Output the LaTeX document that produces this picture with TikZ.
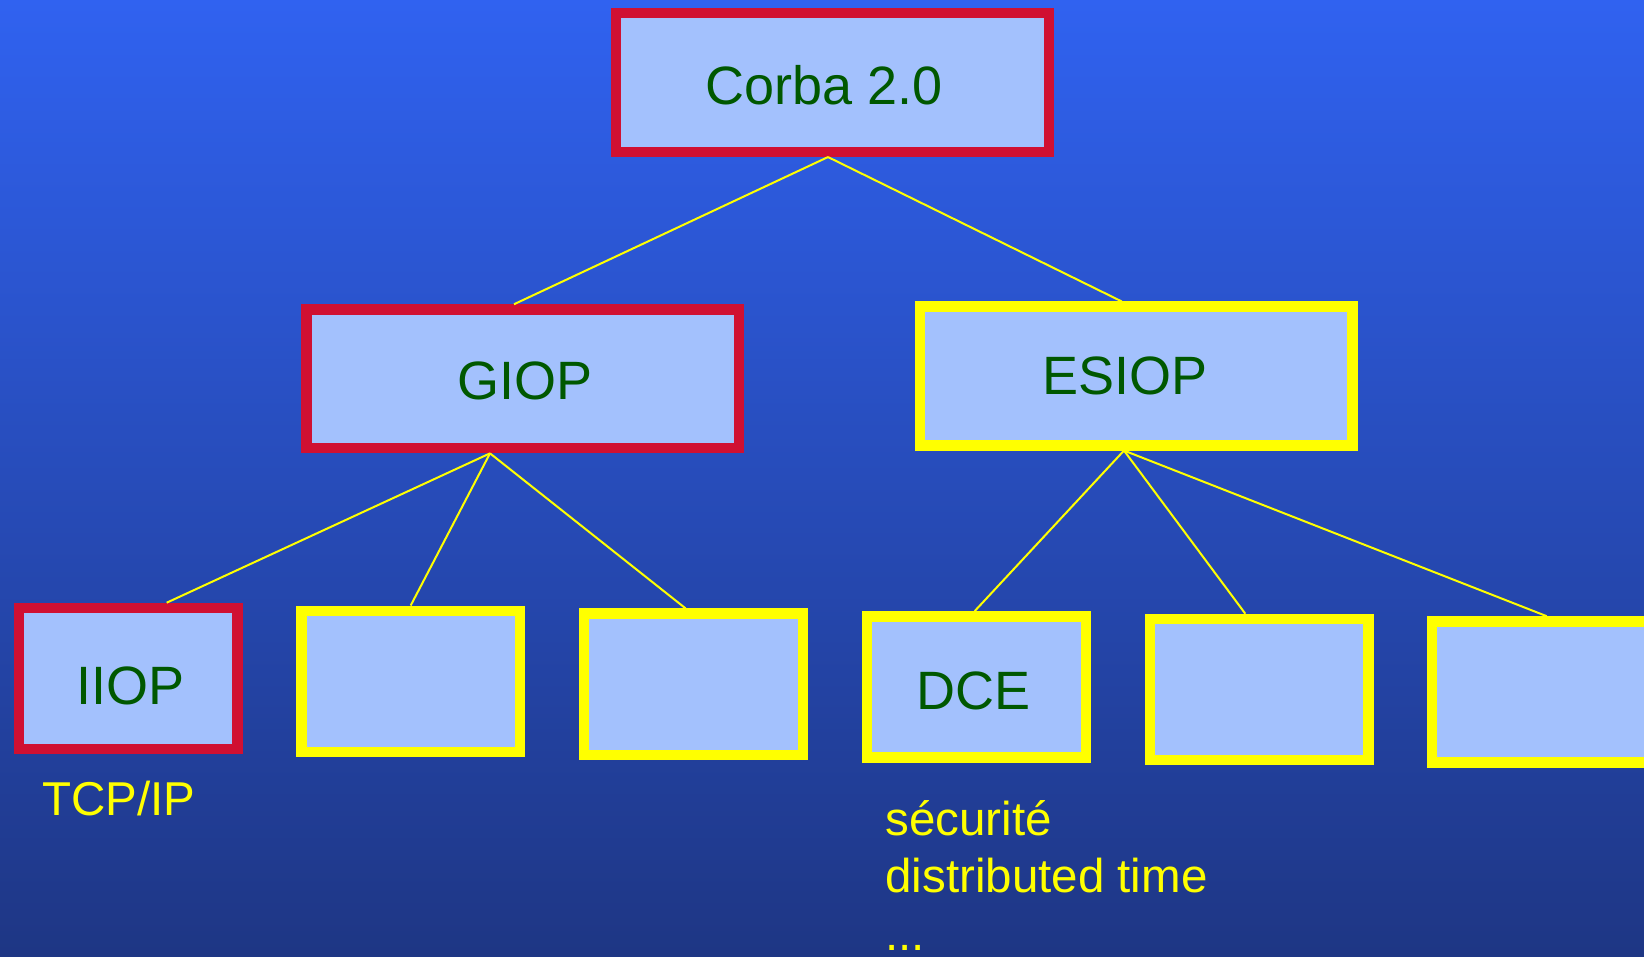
\documentclass[tikz,border=0pt]{standalone}
\usepackage{fontspec}
\setmainfont{Liberation Sans}
\definecolor{bgtop}{RGB}{48,98,240}
\definecolor{bgbot}{RGB}{30,54,132}
\definecolor{boxfill}{RGB}{163,193,253}
\definecolor{boxred}{RGB}{208,16,50}
\definecolor{boxyellow}{RGB}{255,255,0}
\definecolor{labelgreen}{RGB}{0,88,0}
\begin{document}
\begin{tikzpicture}[x=0.5pt,y=-0.5pt,
  box/.style={draw, line width=5.2pt, fill=boxfill, inner sep=0pt},
  wide/.style={box, minimum width=216.3pt, minimum height=69.35pt},
  narrow/.style={box, minimum width=109.3pt, minimum height=70.6pt},
  redbox/.style={draw=boxred},
  yellowbox/.style={draw=boxyellow},
  tag/.style={text=labelgreen, inner sep=0pt, font=\fontsize{27}{32}\selectfont},
  link/.style={draw=boxyellow, line width=1pt},
  note/.style={text=boxyellow, inner sep=0pt, anchor=base west,
    font=\fontsize{23.75}{28.75}\selectfont}]

% backdrop
\useasboundingbox (0,0) rectangle (1644,957);
\shade[top color=bgtop, bottom color=bgbot] (0,0) rectangle (1644,957);
\clip (0,0) rectangle (1644,957);

% protocol hierarchy
\node[wide, redbox, label={[tag, xshift=-4.25pt, yshift=-1.25pt]center:Corba 2.0}] (corba) at (832.5,82.5) {};
\node[wide, redbox, label={[tag, xshift=1.1pt, yshift=-1.1pt]center:GIOP}] (giop) at (522.8,378.8) {};
\node[wide, yellowbox, label={[tag, xshift=-5.65pt]center:ESIOP}] (esiop) at (1136.3,376) {};

\node[narrow, redbox, label={[tag, xshift=1.4pt, yshift=-3.5pt]center:IIOP}] (iiop) at (128,678.5) {};
\node[narrow, yellowbox] (giopb) at (410.7,681.3) {};
\node[narrow, yellowbox] (giopc) at (693.4,684.2) {};
\node[narrow, yellowbox, label={[tag, xshift=-1.45pt, yshift=-2pt]center:DCE}] (dce) at (976.4,686.9) {};
\node[narrow, yellowbox] (esiopb) at (1259.3,689.5) {};
\node[narrow, yellowbox] (esiopc) at (1541.5,692) {};

% tree edges
\draw[link] ([xshift=-2.25pt]corba.south) -- ([xshift=-4.4pt]giop.north);
\draw[link] ([xshift=-2.25pt]corba.south) -- ([xshift=-7.3pt]esiop.north);
\draw[link] ([xshift=-16.4pt]giop.south) -- ([xshift=19.35pt]iiop.north);
\draw[link] ([xshift=-16.4pt]giop.south) -- (giopb.north);
\draw[link] ([xshift=-16.4pt]giop.south) -- ([xshift=-3.9pt]giopc.north);
\draw[link] ([xshift=-6.15pt]esiop.south) -- ([xshift=-0.85pt]dce.north);
\draw[link] ([xshift=-6.15pt]esiop.south) -- ([xshift=-7pt]esiopb.north);
\draw[link] ([xshift=-6.15pt]esiop.south) -- ([xshift=2.6pt]esiopc.north);

% annotations
\node[note] (tcpip) at (42,815.7) {TCP/IP};
\node[note, align=left] (dcenote) at (885,950) {sécurité\\distributed time\\...};
\end{tikzpicture}
\end{document}
